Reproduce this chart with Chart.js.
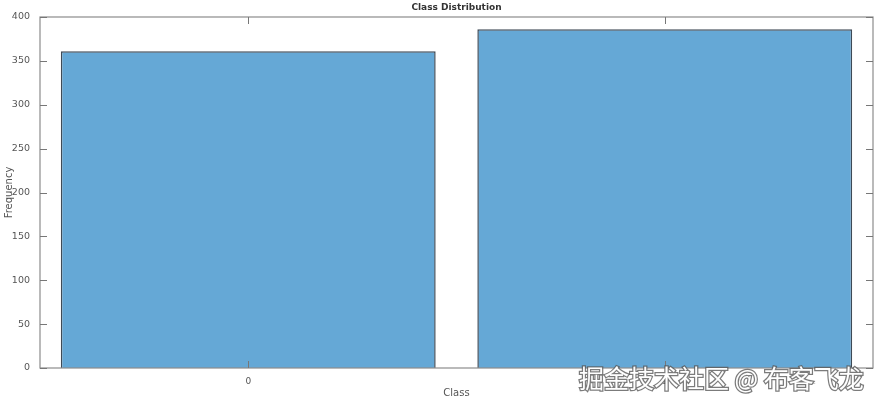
<!DOCTYPE html>
<html>
<head>
<meta charset="utf-8">
<script src="https://cdn.jsdelivr.net/npm/chart.js@4"></script>
<style>
  html, body { margin: 0; padding: 0; background: #fff; }
  #wrap { width: 880px; height: 405px; position: relative; }
</style>
</head>
<body>
<div id="wrap"><canvas id="classChart" width="880" height="405"></canvas></div>
<script>
// Data
const classes = ['0', '1'];
const frequencies = [361, 386];
const yTicks = [0, 50, 100, 150, 200, 250, 300, 350, 400];

// MATLAB-like box, inward ticks, title and watermark
const matlabAxes = {
  id: 'matlabAxes',
  afterDatasetsDraw(chart) {
    const { ctx, chartArea: a, scales } = chart;
    ctx.save();
    ctx.strokeStyle = '#8c8c8c';
    ctx.lineWidth = 1.2;
    ctx.strokeRect(a.left, a.top, a.right - a.left, a.bottom - a.top);

    ctx.strokeStyle = '#777';
    ctx.lineWidth = 1;
    yTicks.forEach(v => {
      const y = Math.round(scales.y.getPixelForValue(v)) + 0.5;
      ctx.beginPath();
      ctx.moveTo(a.left, y); ctx.lineTo(a.left + 7, y);
      ctx.moveTo(a.right, y); ctx.lineTo(a.right - 7, y);
      ctx.stroke();
    });
    classes.forEach((c, i) => {
      const x = Math.round(scales.x.getPixelForValue(i)) + 0.5;
      ctx.beginPath();
      ctx.moveTo(x, a.bottom); ctx.lineTo(x, a.bottom - 7);
      ctx.moveTo(x, a.top); ctx.lineTo(x, a.top + 7);
      ctx.stroke();
    });

    // title
    ctx.fillStyle = '#333';
    ctx.font = 'bold 9px "DejaVu Sans"';
    ctx.textAlign = 'center';
    ctx.textBaseline = 'middle';
    ctx.fillText('Class Distribution', (a.left + a.right) / 2, 8);

    // watermark
    ctx.font = '25px "Noto Sans CJK SC"';
    ctx.textAlign = 'left';
    ctx.textBaseline = 'alphabetic';
    ctx.lineWidth = 2.5;
    ctx.strokeStyle = 'rgba(90,90,90,0.8)';
    ctx.strokeText('掘金技术社区 @ 布客飞龙', 579, 388);
    ctx.fillStyle = '#ffffff';
    ctx.fillText('掘金技术社区 @ 布客飞龙', 579, 388);
    ctx.restore();
  }
};

const ctx = document.getElementById('classChart').getContext('2d');
new Chart(ctx, {
  type: 'bar',
  data: {
    labels: classes,
    datasets: [{
      data: frequencies,
      backgroundColor: '#65a8d6',
      borderColor: '#3e4a56',
      borderWidth: 1.5,
      barPercentage: 0.9,
      categoryPercentage: 1
    }]
  },
  options: {
    responsive: false,
    animation: false,
    layout: { padding: { top: 17, right: 7, left: 0, bottom: 0 } },
    plugins: {
      legend: { display: false },
      tooltip: { enabled: false }
    },
    scales: {
      x: {
        grid: { display: false },
        border: { display: false },
        ticks: { color: '#555', font: { size: 9, family: 'DejaVu Sans' }, padding: 0 },
        title: { display: true, text: 'Class', color: '#555', font: { size: 10, family: 'DejaVu Sans' }, padding: { top: 4, bottom: 6 } },
        afterFit: scale => { scale.height = 37; }
      },
      y: {
        min: 0,
        max: 400,
        ticks: { stepSize: 50, color: '#555', font: { size: 9.5, family: 'DejaVu Sans' }, padding: 2 },
        grid: { display: false },
        border: { display: false },
        title: { display: true, text: 'Frequency', color: '#555', font: { size: 10, family: 'DejaVu Sans' }, padding: { top: 3, bottom: 0 } },
        afterFit: scale => { scale.width = 40; }
      }
    }
  },
  plugins: [matlabAxes]
});
</script>
</body>
</html>
